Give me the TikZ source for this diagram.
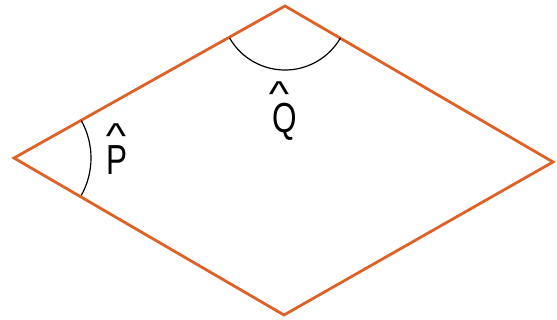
\documentclass[tikz,border=0pt]{standalone}
\usepackage{fontspec}
\usepackage{graphicx}
\setmainfont{Liberation Sans}
\definecolor{edgeor}{RGB}{222,98,40}
\newcommand\hatfnt{\fontsize{36}{38}\selectfont}
\newcommand\capwithhat[2]{%
  \setbox0\hbox{#1}%
  \rlap{\hbox to \wd0{\hss\kern#2\raisebox{26pt}{\hatfnt\scalebox{1.6}[1]{\textasciicircum}}\hss}}\box0}
\begin{document}
\begin{tikzpicture}[x=1pt,y=-1pt,
  side/.style={edgeor,line width=2.8pt,line join=miter},
  anglearc/.style={black,line width=1.2pt},
  letter/.style={font=\fontsize{42}{44}\selectfont,inner sep=0pt,anchor=base,xscale=0.75}]
\useasboundingbox (0,0) rectangle (557,320);
\coordinate (L) at (14,158);
\coordinate (T) at (285,6);
\coordinate (R) at (553,162);
\coordinate (B) at (284,315);
\draw[side] (L) -- (T) -- (R) -- (B) -- cycle;
\draw[anglearc] (L) ++(-29:77) arc[start angle=-29,end angle=29,radius=77];
\draw[anglearc] (T) ++(150:64) arc[start angle=150,end angle=30,radius=64];
\node[letter] (P) at (117,175) {\capwithhat{P}{-2.6pt}};
\node[letter] (Q) at (285,133) {\capwithhat{Q}{-16pt}};
\end{tikzpicture}
\end{document}
